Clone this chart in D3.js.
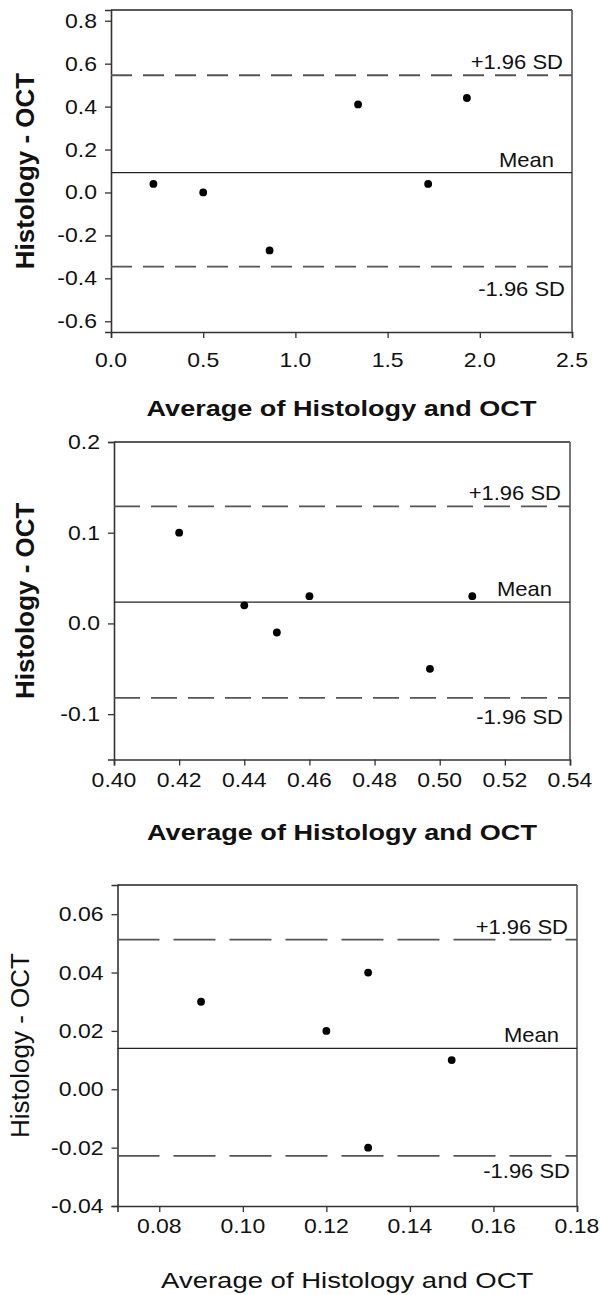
<!DOCTYPE html>
<html>
<head>
<meta charset="utf-8">
<script src="https://cdn.jsdelivr.net/npm/d3@7"></script>
<style>
  html, body { margin: 0; padding: 0; background: #fff; }
  svg { display: block; }
  text { font-family: "Liberation Sans", Arial, sans-serif; fill: #111; }
</style>
</head>
<body>
<svg id="chart" width="601" height="1295"></svg>
<script>
// ---------- DATA ----------
// Panel 1
const p1Avg  = [0.23, 0.50, 0.86, 1.34, 1.72, 1.93];
const p1Diff = [0.04, 0.00, -0.27, 0.41, 0.04, 0.44];
const p1Mean = 0.092, p1Upper = 0.546, p1Lower = -0.345;
const p1XTicks = [0.0, 0.5, 1.0, 1.5, 2.0, 2.5];
const p1YTicks = [-0.6, -0.4, -0.2, 0.0, 0.2, 0.4, 0.6, 0.8];
const p1XDomain = [0, 2.5], p1YDomain = [-0.65, 0.85];

// Panel 2
const p2Avg  = [0.42, 0.44, 0.45, 0.46, 0.497, 0.51];
const p2Diff = [0.10, 0.02, -0.01, 0.03, -0.05, 0.03];
const p2Mean = 0.0235, p2Upper = 0.129, p2Lower = -0.082;
const p2XTicks = [0.40, 0.42, 0.44, 0.46, 0.48, 0.50, 0.52, 0.54];
const p2YTicks = [-0.1, 0.0, 0.1, 0.2];
const p2XDomain = [0.40, 0.54], p2YDomain = [-0.15, 0.2];

// Panel 3
const p3Avg  = [0.09, 0.12, 0.13, 0.13, 0.15];
const p3Diff = [0.03, 0.02, 0.04, -0.02, 0.01];
const p3Mean = 0.014, p3Upper = 0.0513, p3Lower = -0.0228;
const p3XTicks = [0.08, 0.10, 0.12, 0.14, 0.16, 0.18];
const p3YTicks = [-0.04, -0.02, 0.00, 0.02, 0.04, 0.06];
const p3XDomain = [0.07, 0.18], p3YDomain = [-0.04, 0.07];

const xTitleText = "Average of Histology and OCT";
const yTitleText = "Histology - OCT";
const upperLabel = "+1.96 SD", meanLabel = "Mean", lowerLabel = "-1.96 SD";

// ---------- DRAW ----------
const svg = d3.select("#chart");
const STRETCH = 1.15;

function stretchedText(g, x, y, str, opts) {
  return g.append("text")
    .attr("transform", `translate(${x},${y}) scale(${opts.sx || STRETCH},1)`)
    .attr("text-anchor", opts.anchor || "start")
    .style("font-size", (opts.size || 20) + "px")
    .style("font-weight", opts.weight || "normal")
    .text(str);
}

function drawPanel(cfg) {
  const g = svg.append("g");
  const x = d3.scaleLinear().domain(cfg.xDomain).range([cfg.left, cfg.right]);
  const y = d3.scaleLinear().domain(cfg.yDomain).range([cfg.bottom, cfg.top]);

  // frame (top & right)
  g.append("line").attr("x1", cfg.left).attr("x2", cfg.right)
    .attr("y1", cfg.top).attr("y2", cfg.top)
    .attr("stroke", "#222").attr("stroke-width", 1.6);
  g.append("line").attr("x1", cfg.right).attr("x2", cfg.right)
    .attr("y1", cfg.top).attr("y2", cfg.bottom)
    .attr("stroke", "#555").attr("stroke-width", 1.6);

  // axes
  const xAxis = d3.axisBottom(x).tickValues(cfg.xTicks).tickSize(6).tickFormat(() => "");
  const yAxis = d3.axisLeft(y).tickValues(cfg.yTicks).tickSize(6).tickFormat(() => "");
  const gx = g.append("g").attr("transform", `translate(0,${cfg.bottom})`).call(xAxis);
  const gy = g.append("g").attr("transform", `translate(${cfg.left},0)`).call(yAxis);
  [gx, gy].forEach(a => {
    a.select(".domain").attr("stroke", "#333").attr("stroke-width", 1.6);
    a.selectAll(".tick line").attr("stroke", "#333").attr("stroke-width", 1.3);
  });

  // tick labels (hyphen-minus as in the original)
  const fx = d3.format(cfg.xFmt), fy = d3.format(cfg.yFmt);
  const xf = v => fx(v).replace("\u2212", "-");
  const yf = v => fy(v).replace("\u2212", "-");
  cfg.xTicks.forEach(v => stretchedText(g, x(v), cfg.bottom + cfg.xLabelOff, xf(v), {anchor: "middle"}));
  cfg.yTicks.forEach(v => stretchedText(g, cfg.left - 14, y(v) + 7, yf(v), {anchor: "end"}));

  // reference lines
  g.append("line").attr("x1", cfg.left).attr("x2", cfg.right)
    .attr("y1", y(cfg.mean)).attr("y2", y(cfg.mean))
    .attr("stroke", "#222").attr("stroke-width", 1.3);
  [cfg.upper, cfg.lower].forEach(v => {
    g.append("line").attr("x1", cfg.left).attr("x2", cfg.right)
      .attr("y1", y(v)).attr("y2", y(v))
      .attr("stroke", "#555").attr("stroke-width", 1.8)
      .attr("stroke-dasharray", cfg.dash);
  });
  stretchedText(g, cfg.right - 9, y(cfg.upper) - 6, upperLabel, {anchor: "end", sx: 1.1});
  stretchedText(g, cfg.right - 18, y(cfg.mean) - 6, meanLabel, {anchor: "end", sx: 1.1});
  stretchedText(g, cfg.right - 7, y(cfg.lower) + cfg.lowerOff, lowerLabel, {anchor: "end", sx: 1.1});

  // points
  g.selectAll("circle.pt").data(d3.zip(cfg.avg, cfg.diff)).join("circle")
    .attr("class", "pt")
    .attr("cx", d => x(d[0])).attr("cy", d => y(d[1]))
    .attr("r", 3.9).attr("fill", "#000");

  // titles
  stretchedText(g, (cfg.left + cfg.right) / 2, cfg.xTitleY, xTitleText,
    {anchor: "middle", size: 22, weight: cfg.bold ? "bold" : "normal", sx: cfg.bold ? 1.23 : 1.25});
  g.append("text")
    .attr("transform", `translate(${cfg.yTitleX},${(cfg.top + cfg.bottom) / 2}) rotate(-90)`)
    .attr("text-anchor", "middle")
    .style("font-size", "26px")
    .style("font-weight", cfg.bold ? "bold" : "normal")
    .text(yTitleText);
}

drawPanel({
  avg: p1Avg, diff: p1Diff, mean: p1Mean, upper: p1Upper, lower: p1Lower,
  xTicks: p1XTicks, yTicks: p1YTicks, xDomain: p1XDomain, yDomain: p1YDomain,
  xFmt: ".1f", yFmt: ".1f",
  left: 111, right: 572, top: 10, bottom: 332,
  xLabelOff: 35, xTitleY: 416, yTitleX: 34, lowerOff: 29,
  dash: "21,11", bold: true
});
drawPanel({
  avg: p2Avg, diff: p2Diff, mean: p2Mean, upper: p2Upper, lower: p2Lower,
  xTicks: p2XTicks, yTicks: p2YTicks, xDomain: p2XDomain, yDomain: p2YDomain,
  xFmt: ".2f", yFmt: ".1f",
  left: 114, right: 570, top: 442, bottom: 759.5,
  xLabelOff: 27, xTitleY: 840, yTitleX: 34, lowerOff: 26,
  dash: "26,11", bold: true
});
drawPanel({
  avg: p3Avg, diff: p3Diff, mean: p3Mean, upper: p3Upper, lower: p3Lower,
  xTicks: p3XTicks, yTicks: p3YTicks, xDomain: p3XDomain, yDomain: p3YDomain,
  xFmt: ".2f", yFmt: ".2f",
  left: 117.5, right: 577, top: 885, bottom: 1206,
  xLabelOff: 27, xTitleY: 1288, yTitleX: 29, lowerOff: 22,
  dash: "42,14", bold: false
});
</script>
</body>
</html>
